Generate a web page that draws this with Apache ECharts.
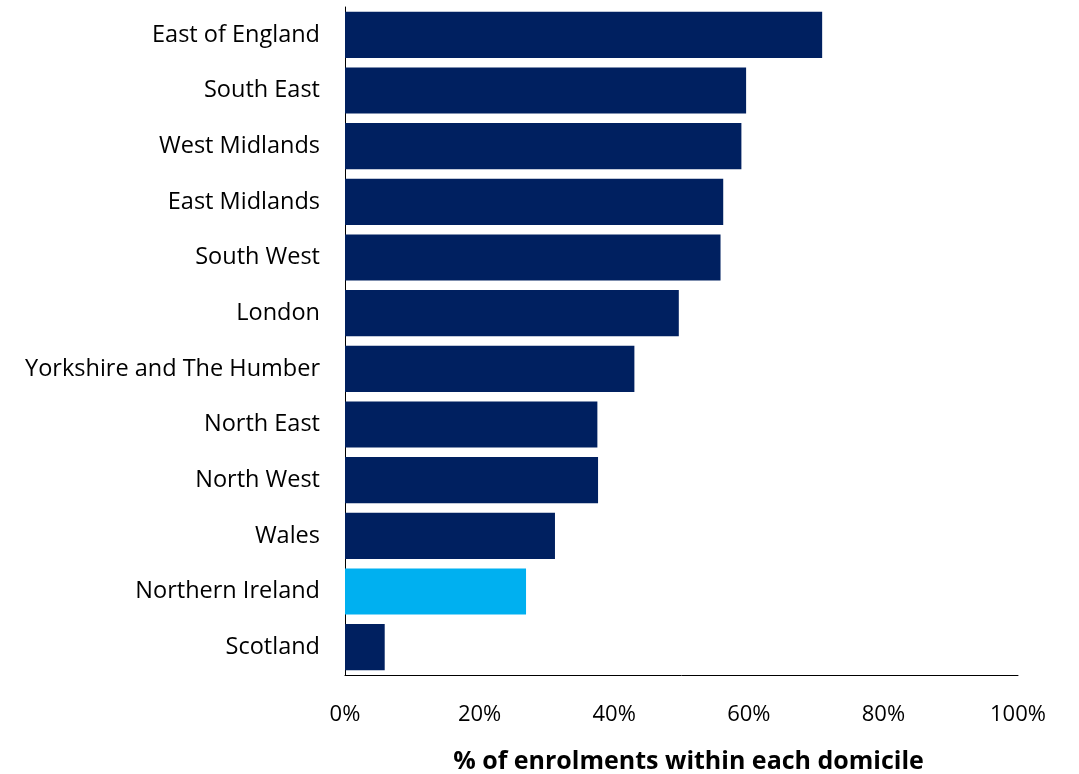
<!DOCTYPE html>
<html><head><meta charset="utf-8">
<script src="https://cdn.jsdelivr.net/npm/echarts@6/dist/echarts.min.js"></script>
<style>html,body{margin:0;padding:0;background:#fff}#c{width:1079px;height:774px}</style>
</head><body><div id="c"></div>
<script>
const categories = ["East of England","South East","West Midlands","East Midlands","South West","London","Yorkshire and The Humber","North East","North West","Wales","Northern Ireland","Scotland"];
const values = [70.9, 59.6, 58.9, 56.2, 55.8, 49.6, 43.0, 37.5, 37.6, 31.2, 26.9, 5.9];
const highlight = "Northern Ireland";
const xTicks = [0, 20, 40, 60, 80, 100];
const xTitle = "% of enrolments within each domicile";

const font = "'Open Sans', sans-serif";
const chart = echarts.init(document.getElementById('c'));
chart.setOption({
  animation: false,
  grid: {left: 345, right: 61, top: 7, bottom: 99, containLabel: false, outerBoundsMode: 'none'},
  xAxis: {
    type: 'value', min: 0, max: 100, interval: 20,
    axisLine: {show: true, lineStyle: {color: '#000', width: 1}},
    axisTick: {show: false},
    splitLine: {show: false},
    axisLabel: {formatter: v => v + '%', fontFamily: font, fontSize: 22, color: '#000', margin: 29},
    name: xTitle, nameLocation: 'middle', nameGap: 74,
    nameTextStyle: {fontFamily: font, fontSize: 25, fontWeight: 'bold', color: '#000', padding: [0, 0, 0, 14]}
  },
  yAxis: {
    type: 'category', data: categories, inverse: true,
    axisLine: {show: true, lineStyle: {color: '#000', width: 1}},
    axisTick: {show: false},
    axisLabel: {fontFamily: font, fontSize: 23.5, color: '#000', margin: 25}
  },
  series: [{
    type: 'bar', barCategoryGap: '17%',
    data: values.map((v, i) => ({value: v, itemStyle: {color: categories[i] === highlight ? '#00B0F0' : '#002060'}}))
  }]
});
</script></body></html>
